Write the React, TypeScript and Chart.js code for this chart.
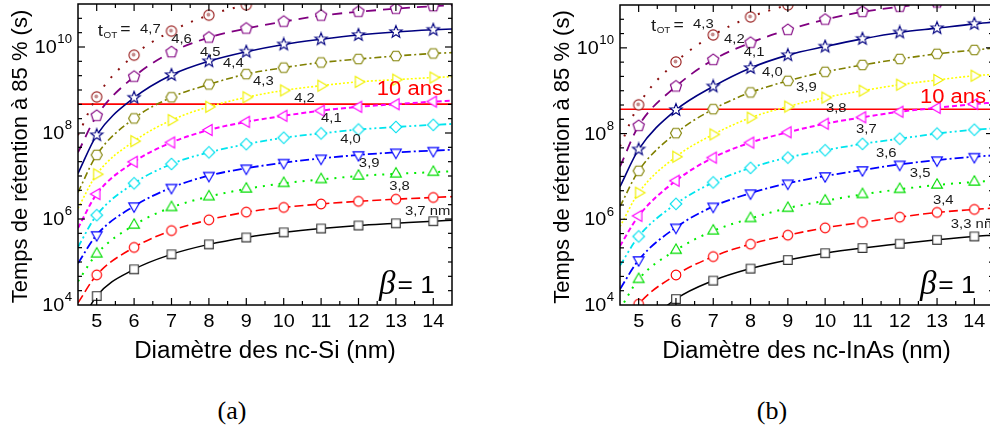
import React, { useEffect, useRef } from "react";
import { Chart, registerables } from "chart.js";

Chart.register(...registerables);

// Nanocrystal diameters (nm); 4.5 and 14.5 are the ends of the fitted curves
const DIAMETERS = [4.5, 5, 6, 7, 8, 9, 10, 11, 12, 13, 14, 14.5];

// ---- (a) nc-Si : log10 of retention time (s), one list per tunnel-oxide thickness ----
const SI_LABELS = ["3,7 nm", "3,8", "3,9", "4,0", "4,1", "4,2", "4,3", "4,4", "4,5", "4,6", "4,7"];
const SI_37 = [3.45, 4.21, 4.83, 5.18, 5.41, 5.57, 5.69, 5.78, 5.85, 5.9, 5.95, 5.97];
const SI_38 = [4.05, 4.7, 5.34, 5.73, 5.98, 6.16, 6.27, 6.35, 6.41, 6.46, 6.5, 6.52];
const SI_39 = [4.55, 5.19, 5.86, 6.27, 6.52, 6.7, 6.83, 6.92, 7.0, 7.05, 7.09, 7.11];
const SI_40 = [4.97, 5.63, 6.3, 6.73, 7.01, 7.18, 7.31, 7.41, 7.49, 7.55, 7.59, 7.61];
const SI_41 = [5.35, 6.09, 6.83, 7.28, 7.55, 7.74, 7.89, 7.99, 8.08, 8.14, 8.19, 8.21];
const SI_42 = [5.79, 6.58, 7.33, 7.78, 8.07, 8.26, 8.4, 8.52, 8.61, 8.67, 8.73, 8.75];
const SI_43 = [6.25, 7.04, 7.81, 8.3, 8.61, 8.83, 8.99, 9.1, 9.19, 9.24, 9.29, 9.31];
const SI_44 = [6.62, 7.49, 8.34, 8.83, 9.13, 9.37, 9.52, 9.64, 9.72, 9.79, 9.85, 9.87];
const SI_45 = [7.06, 7.95, 8.82, 9.35, 9.67, 9.89, 10.06, 10.18, 10.28, 10.35, 10.4, 10.42];
const SI_46 = [7.55, 8.4, 9.31, 9.88, 10.22, 10.43, 10.59, 10.73, 10.82, 10.89, 10.95, 10.97];
const SI_47 = [7.95, 8.84, 9.81, 10.37, 10.74, 10.98, 11.16, 11.29, 11.39, 11.46, 11.52, 11.55];
const SI_TEN_YEARS = 4.7e8;

// ---- (b) nc-InAs ----
const INAS_LABELS = ["3,3 nm", "3,4", "3,5", "3,6", "3,7", "3,8", "3,9", "4,0", "4,1", "4,2", "4,3"];
const INAS_33 = [2.7, 3.35, 4.14, 4.57, 4.85, 5.05, 5.21, 5.33, 5.43, 5.52, 5.6, 5.63];
const INAS_34 = [3.35, 4.02, 4.7, 5.13, 5.42, 5.63, 5.8, 5.93, 6.05, 6.16, 6.23, 6.26];
const INAS_35 = [3.9, 4.6, 5.28, 5.73, 6.02, 6.26, 6.43, 6.58, 6.7, 6.8, 6.87, 6.9];
const INAS_36 = [4.37, 5.05, 5.81, 6.3, 6.61, 6.84, 7.01, 7.15, 7.28, 7.38, 7.46, 7.49];
const INAS_37 = [4.92, 5.6, 6.36, 6.86, 7.2, 7.44, 7.61, 7.76, 7.88, 8.0, 8.09, 8.12];
const INAS_38 = [5.38, 6.08, 6.9, 7.44, 7.79, 8.03, 8.23, 8.38, 8.51, 8.6, 8.69, 8.72];
const INAS_39 = [5.83, 6.62, 7.46, 7.98, 8.37, 8.63, 8.84, 9.0, 9.14, 9.25, 9.35, 9.38];
const INAS_40 = [6.3, 7.13, 8.01, 8.57, 8.96, 9.23, 9.44, 9.6, 9.74, 9.86, 9.95, 9.99];
const INAS_41 = [6.76, 7.63, 8.55, 9.1, 9.53, 9.83, 10.03, 10.21, 10.36, 10.46, 10.56, 10.6];
const INAS_42 = [7.23, 8.18, 9.1, 9.72, 10.12, 10.42, 10.66, 10.84, 10.96, 11.06, 11.14, 11.18];
const INAS_43 = [7.7, 8.67, 9.67, 10.3, 10.72, 11.0, 11.22, 11.38, 11.5, 11.6, 11.68, 11.72];
const INAS_TEN_YEARS = 3.7e8;

const X_TICKS = [5, 6, 7, 8, 9, 10, 11, 12, 13, 14];
const Y_TICK_EXPONENTS = [4, 6, 8, 10];

// ---- styles (per series, bottom to top) ----
const COLORS = ["#000000", "#ff0000", "#00ee00", "#0000ff", "#00e5ee", "#ff00ff", "#ffff00", "#808000", "#000080", "#800080", "#8b1010"];
const MARKER_COLORS = ["#333333", "#ff0000", "#00dd00", "#0000ff", "#00e0ee", "#ff00ff", "#f0f000", "#808000", "#000080", "#800080", "#9a2020"];
const DASHES: number[][] = [[], [9, 4], [2, 6], [9, 3, 2, 3], [7, 3, 2, 3, 2, 3], [5, 3], [2, 2], [7, 3, 2, 3], [], [10, 7], [2, 9]];
const WIDTHS = [1.5, 1.6, 2, 1.8, 1.8, 2, 1.6, 1.6, 1.6, 1.8, 2];
const SHAPES = ["square", "circle", "triUp", "triDown", "diamond", "triLeft", "triRight", "hexagon", "star", "pentagon", "circleDot"];

const SANS = '"Liberation Sans", Arial, sans-serif';
const SX = 1.1; // horizontal stretch of the original figure's text

function makeMarker(shape: string, color: string): HTMLCanvasElement {
  const S = 16;
  const c = document.createElement("canvas");
  c.width = S;
  c.height = S;
  const g = c.getContext("2d")!;
  const m = S / 2;
  g.lineWidth = 1.15;
  g.strokeStyle = color;
  g.fillStyle = "#ffffff";
  const poly = (pts: number[][]) => {
    g.beginPath();
    pts.forEach(([x, y], i) => (i ? g.lineTo(m + x, m + y) : g.moveTo(m + x, m + y)));
    g.closePath();
  };
  const reg = (n: number, r: number, start: number) => {
    const pts: number[][] = [];
    for (let i = 0; i < n; i++) {
      const a = start + (i * 2 * Math.PI) / n;
      pts.push([r * Math.cos(a), r * Math.sin(a)]);
    }
    return pts;
  };
  switch (shape) {
    case "square":
      g.beginPath();
      g.rect(m - 4.3, m - 4.3, 8.6, 8.6);
      break;
    case "circle":
      g.beginPath();
      g.arc(m, m, 4.8, 0, Math.PI * 2);
      break;
    case "triUp":
      poly(reg(3, 6.2, -Math.PI / 2));
      break;
    case "triDown":
      poly(reg(3, 6.2, Math.PI / 2));
      break;
    case "triLeft":
      poly(reg(3, 6.3, Math.PI));
      break;
    case "triRight":
      poly(reg(3, 6.3, 0));
      break;
    case "diamond":
      poly(reg(4, 5.8, 0));
      break;
    case "hexagon":
      poly(reg(6, 5.5, 0));
      break;
    case "pentagon":
      poly(reg(5, 5.9, -Math.PI / 2));
      break;
    case "star": {
      const pts: number[][] = [];
      for (let i = 0; i < 10; i++) {
        const r = i % 2 ? 2.7 : 6.4;
        const a = -Math.PI / 2 + (i * Math.PI) / 5;
        pts.push([r * Math.cos(a), r * Math.sin(a)]);
      }
      poly(pts);
      break;
    }
    case "circleDot":
    default:
      g.beginPath();
      g.arc(m, m, 5.1, 0, Math.PI * 2);
      break;
  }
  g.fill();
  g.stroke();
  if (shape === "circleDot") {
    g.beginPath();
    g.arc(m - 0.5, m - 0.5, 1.9, 0, Math.PI * 2);
    g.fillStyle = "#c48a8a";
    g.fill();
  }
  return c;
}

function drawText(ctx: CanvasRenderingContext2D, text: string, x: number, y: number, font: string, align: string, color = "#000", baseline: CanvasTextBaseline = "middle", sx = SX) {
  ctx.save();
  ctx.font = font;
  const w = ctx.measureText(text).width * sx;
  let left = x;
  if (align === "center") left = x - w / 2;
  else if (align === "right") left = x - w;
  ctx.translate(left, y);
  ctx.scale(sx, 1);
  ctx.textAlign = "left";
  ctx.textBaseline = baseline;
  ctx.fillStyle = color;
  ctx.fillText(text, 0, 0);
  ctx.restore();
  return w;
}

type Label = { text: string; x: number; y: number };
type Panel = {
  xTitle: string;
  series: number[][];
  tenYears: number;
  labels: Label[];
  tot: { x: number; y: number };
  ten: { x: number; y: number };
  beta: { x: number; y: number };
  padding: { left: number; right: number; top: number; bottom: number };
  width: number;
  height: number;
  left: number;
};

const PANEL_A: Panel = {
  xTitle: "Diamètre des nc-Si (nm)",
  series: [SI_37, SI_38, SI_39, SI_40, SI_41, SI_42, SI_43, SI_44, SI_45, SI_46, SI_47],
  tenYears: SI_TEN_YEARS,
  labels: [
    { text: SI_LABELS[10], x: 6.16, y: 10.42 },
    { text: SI_LABELS[9], x: 6.99, y: 10.19 },
    { text: SI_LABELS[8], x: 7.76, y: 9.88 },
    { text: SI_LABELS[7], x: 8.38, y: 9.63 },
    { text: SI_LABELS[6], x: 9.18, y: 9.21 },
    { text: SI_LABELS[5], x: 10.28, y: 8.81 },
    { text: SI_LABELS[4], x: 11.0, y: 8.35 },
    { text: SI_LABELS[3], x: 11.51, y: 7.86 },
    { text: SI_LABELS[2], x: 12.01, y: 7.3 },
    { text: SI_LABELS[1], x: 12.82, y: 6.77 },
    { text: SI_LABELS[0], x: 13.24, y: 6.19 },
  ],
  tot: { x: 5.03, y: 10.37 },
  ten: { x: 12.49, y: 9.02 },
  beta: { x: 12.55, y: 4.26 },
  padding: { left: 78, right: 48, top: 4, bottom: 75 },
  width: 500,
  height: 380,
  left: 0,
};

const PANEL_B: Panel = {
  xTitle: "Diamètre des nc-InAs (nm)",
  series: [INAS_33, INAS_34, INAS_35, INAS_36, INAS_37, INAS_38, INAS_39, INAS_40, INAS_41, INAS_42, INAS_43],
  tenYears: INAS_TEN_YEARS,
  labels: [
    { text: INAS_LABELS[10], x: 6.46, y: 10.54 },
    { text: INAS_LABELS[9], x: 7.29, y: 10.21 },
    { text: INAS_LABELS[8], x: 7.82, y: 9.89 },
    { text: INAS_LABELS[7], x: 8.31, y: 9.44 },
    { text: INAS_LABELS[6], x: 9.22, y: 9.07 },
    { text: INAS_LABELS[5], x: 10.02, y: 8.6 },
    { text: INAS_LABELS[4], x: 10.83, y: 8.09 },
    { text: INAS_LABELS[3], x: 11.36, y: 7.55 },
    { text: INAS_LABELS[2], x: 12.27, y: 7.08 },
    { text: INAS_LABELS[1], x: 12.89, y: 6.45 },
    { text: INAS_LABELS[0], x: 13.37, y: 5.89 },
  ],
  tot: { x: 5.33, y: 10.5 },
  ten: { x: 12.54, y: 8.84 },
  beta: { x: 12.54, y: 4.26 },
  padding: { left: 100, right: 17, top: 5, bottom: 75 },
  width: 490,
  height: 380,
  left: 520,
};

function framePlugin(panel: Panel) {
  return {
    id: "originFrame",
    afterDraw(chart: any) {
      const { ctx, chartArea: a, scales } = chart;
      const xs = scales.x;
      const ys = scales.y;
      ctx.save();
      ctx.strokeStyle = "#000";
      ctx.lineWidth = 1.5;
      ctx.strokeRect(a.left, a.top, a.right - a.left, a.bottom - a.top);
      ctx.lineWidth = 1.2;
      const seg = (x1: number, y1: number, x2: number, y2: number) => {
        ctx.beginPath();
        ctx.moveTo(x1, y1);
        ctx.lineTo(x2, y2);
        ctx.stroke();
      };
      // x ticks (inward, bottom and top)
      for (let v = 5; v <= 14.001; v += 0.5) {
        const px = xs.getPixelForValue(v);
        const len = Number.isInteger(v) ? 7 : 4;
        seg(px, a.bottom, px, a.bottom - len);
        seg(px, a.top, px, a.top + len);
      }
      // y ticks: major every 2 decades, minor every 1/3 decade
      for (let k = 1; k < 21; k++) {
        const py = ys.getPixelForValue(Math.pow(10, 4 + k / 3));
        const len = k % 6 === 0 ? 7 : 4;
        seg(a.left, py, a.left + len, py);
        seg(a.right, py, a.right - len, py);
      }
      // x tick labels
      X_TICKS.forEach((v) => {
        drawText(ctx, String(v), xs.getPixelForValue(v), a.bottom + 17, `18px ${SANS}`, "center");
      });
      // y tick labels 10^n
      Y_TICK_EXPONENTS.forEach((e) => {
        const py = ys.getPixelForValue(Math.pow(10, e));
        const right = a.left - 6;
        ctx.font = `12px ${SANS}`;
        const ew = ctx.measureText(String(e)).width * SX;
        drawText(ctx, String(e), right - ew, py - 7, `12px ${SANS}`, "left");
        drawText(ctx, "10", right - ew - 0.5, py + 1, `18px ${SANS}`, "right");
      });
      // axis titles
      drawText(ctx, panel.xTitle, (a.left + a.right) / 2, a.bottom + 47, `23px ${SANS}`, "center", "#000", "middle", 1.05);
      ctx.save();
      ctx.translate(a.left - 57, (a.top + a.bottom) / 2 + 2);
      ctx.rotate(-Math.PI / 2);
      ctx.font = `22px ${SANS}`;
      ctx.textAlign = "center";
      ctx.textBaseline = "middle";
      ctx.fillStyle = "#000";
      ctx.fillText("Temps de rétention à 85 % (s)", 0, 0);
      ctx.restore();

      // in-plot annotations
      ctx.save();
      ctx.beginPath();
      ctx.rect(a.left, a.top, a.right - a.left, a.bottom - a.top);
      ctx.clip();
      panel.labels.forEach((l) => {
        drawText(ctx, l.text, xs.getPixelForValue(l.x), ys.getPixelForValue(Math.pow(10, l.y)), `13.5px ${SANS}`, "left", "#1a1a1a");
      });
      const tx = xs.getPixelForValue(panel.tot.x);
      const ty = ys.getPixelForValue(Math.pow(10, panel.tot.y));
      const tw = drawText(ctx, "t", tx, ty, `17px ${SANS}`, "left", "#1a1a1a");
      drawText(ctx, "OT", tx + tw + 0.5, ty + 4, `9px ${SANS}`, "left", "#1a1a1a");
      drawText(ctx, "=", tx + 22.5, ty - 1, `16px ${SANS}`, "left", "#1a1a1a");
      drawText(ctx, "10 ans", xs.getPixelForValue(panel.ten.x), ys.getPixelForValue(Math.pow(10, panel.ten.y)), `20px ${SANS}`, "left", "#ff0000");
      const bx = xs.getPixelForValue(panel.beta.x);
      const by = ys.getPixelForValue(Math.pow(10, panel.beta.y));
      const bw = drawText(ctx, "β", bx, by, `italic 33px "Liberation Serif", serif`, "left", "#000", "alphabetic", 1.0);
      drawText(ctx, "= 1", bx + bw + 2, by - 1, `24px ${SANS}`, "left", "#000", "alphabetic");
      ctx.restore();
      ctx.restore();
    },
  };
}

function PanelChart({ panel }: { panel: Panel }) {
  const ref = useRef<HTMLCanvasElement | null>(null);
  useEffect(() => {
    if (!ref.current) return;
    const markers = SHAPES.map((s, i) => makeMarker(s, MARKER_COLORS[i]));
    const datasets: any[] = panel.series.map((vals, i) => ({
      data: DIAMETERS.map((d, j) => ({ x: d, y: Math.pow(10, vals[j]) })),
      borderColor: COLORS[i],
      borderWidth: WIDTHS[i],
      borderDash: DASHES[i],
      pointStyle: markers[i],
      pointRadius: DIAMETERS.map((d) => (Number.isInteger(d) ? 5 : 0)),
      pointHoverRadius: 0,
      cubicInterpolationMode: "monotone",
      fill: false,
    }));
    datasets.push({
      data: [
        { x: 4.5, y: panel.tenYears },
        { x: 14.5, y: panel.tenYears },
      ],
      borderColor: "#ff0000",
      borderWidth: 1.6,
      pointRadius: 0,
      tension: 0,
      fill: false,
    });
    const chart = new Chart(ref.current, {
      type: "line",
      data: { datasets },
      options: {
        animation: false,
        responsive: false,
        devicePixelRatio: 1,
        events: [],
        layout: { padding: panel.padding },
        plugins: { legend: { display: false }, tooltip: { enabled: false } },
        scales: {
          x: { type: "linear", min: 4.5, max: 14.5, display: false },
          y: { type: "logarithmic", min: 1e4, max: 1e11, display: false },
        },
      },
      plugins: [framePlugin(panel)],
    } as any);
    return () => chart.destroy();
  }, [panel]);
  return (
    <canvas
      ref={ref}
      width={panel.width}
      height={panel.height}
      style={{ position: "absolute", left: panel.left, top: 0, width: panel.width, height: panel.height }}
    />
  );
}

export default function App() {
  const caption: React.CSSProperties = {
    position: "absolute",
    top: 396,
    width: 60,
    textAlign: "center",
    fontFamily: '"Liberation Serif", serif',
    fontSize: 26,
    lineHeight: "30px",
    color: "#000",
  };
  return (
    <div style={{ position: "fixed", left: 0, top: 0, width: 990, height: 441, overflow: "hidden", background: "#fff" }}>
      <PanelChart panel={PANEL_A} />
      <PanelChart panel={PANEL_B} />
      <div style={{ ...caption, left: 232 - 30 }}>(a)</div>
      <div style={{ ...caption, left: 772 - 30 }}>(b)</div>
    </div>
  );
}
